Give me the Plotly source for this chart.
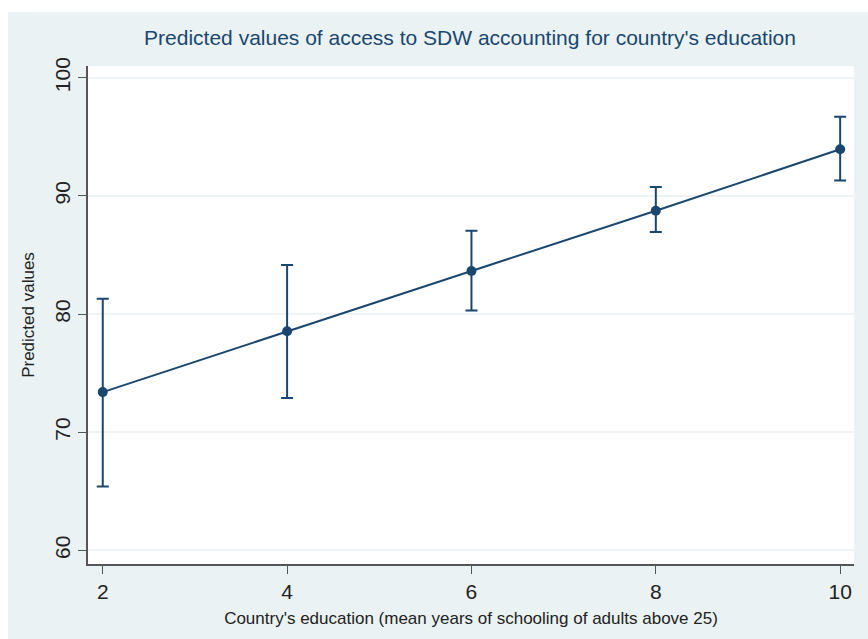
import plotly.graph_objects as go

# Predicted values (margins) with 95% confidence intervals
education = [2, 4, 6, 8, 10]
predicted = [73.4, 78.55, 83.65, 88.75, 93.95]
ci_upper = [81.3, 84.15, 87.05, 90.75, 96.7]
ci_lower = [65.4, 72.9, 80.3, 86.95, 91.3]

x_ticks = [2, 4, 6, 8, 10]
y_ticks = [60, 70, 80, 90, 100]

navy = "#1A476F"
bg = "#EAF2F3"
font_family = "Liberation Sans, Arial, sans-serif"

err_plus = [u - p for u, p in zip(ci_upper, predicted)]
err_minus = [p - l for p, l in zip(predicted, ci_lower)]

fig = go.Figure()
fig.add_trace(go.Scatter(
    x=education,
    y=predicted,
    mode="lines+markers",
    line=dict(color=navy, width=2),
    marker=dict(color=navy, size=10),
    error_y=dict(
        type="data",
        symmetric=False,
        array=err_plus,
        arrayminus=err_minus,
        color=navy,
        thickness=2,
        width=6,
    ),
    showlegend=False,
    hoverinfo="x+y",
))

# page frame: thin white border at top and left
L, R, T, B = 88, 14, 66, 75
W, H = 868, 639
pw, ph = W - L - R, H - T - B
fig.add_shape(type="rect", xref="paper", yref="paper", layer="below",
              x0=-L / pw, x1=(W - L) / pw, y0=1 + T / ph, y1=1 + (T - 12) / ph,
              fillcolor="white", line_width=0)
fig.add_shape(type="rect", xref="paper", yref="paper", layer="below",
              x0=-L / pw, x1=-(L - 8) / pw, y0=-B / ph, y1=1 + T / ph,
              fillcolor="white", line_width=0)

fig.update_layout(
    width=W,
    height=H,
    margin=dict(l=L, r=R, t=T, b=B),
    paper_bgcolor=bg,
    plot_bgcolor="white",
    font=dict(family=font_family, color="#222222"),
    title=dict(
        text="Predicted values of access to SDW accounting for country's education",
        x=(470 - L) / pw, xanchor="center", xref="paper",
        y=1 - 38 / H, yanchor="middle",
        font=dict(size=21, color=navy, family=font_family),
    ),
    xaxis=dict(
        range=[1.84, 10.15],
        tickvals=x_ticks,
        ticktext=[str(v) for v in x_ticks],
        ticks="outside", ticklen=8, tickwidth=1, tickcolor="#555555",
        showline=True, linecolor="#555555", linewidth=1.5,
        showgrid=False, zeroline=False,
        tickfont=dict(size=21, color="#222222"),
        title=dict(text="Country's education (mean years of schooling of adults above 25)",
                   font=dict(size=17, color="#222222"), standoff=10),
    ),
    yaxis=dict(
        range=[58.85, 101.0],
        tickvals=y_ticks,
        ticktext=[str(v) for v in y_ticks],
        tickangle=-90,
        ticks="outside", ticklen=8, tickwidth=1, tickcolor="#555555",
        showline=True, linecolor="#555555", linewidth=1.5,
        showgrid=True, gridcolor="#EEF4F5", gridwidth=1.5,
        zeroline=False,
        tickfont=dict(size=21, color="#222222"),
        title=dict(text="Predicted values", font=dict(size=17, color="#222222"), standoff=12),
    ),
)

fig.write_html("out.html")
